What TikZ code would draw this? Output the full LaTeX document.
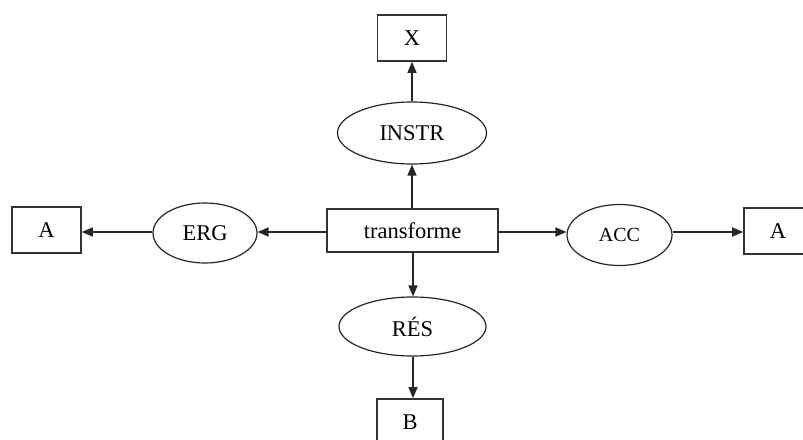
\documentclass[tikz,border=0pt]{standalone}
\usepackage{fontspec}
\setmainfont{Liberation Serif}
\usetikzlibrary{shapes.geometric,arrows.meta}
\tikzset{
  x=1pt,y=1pt,
  box/.style={draw=black!80,line width=1.6pt,rectangle,inner sep=0pt,font=\fontsize{22.5}{24}\selectfont},
  rel/.style={draw=black!85,line width=1.2pt,ellipse,inner sep=0pt,font=\fontsize{22.5}{24}\selectfont},
  conn/.style={draw=black!85,line width=1.4pt,-{Triangle[length=11pt,width=9pt]}},
}
\begin{document}
\begin{tikzpicture}
\path[use as bounding box,clip] (0,0) rectangle (803,-439);
\fill[white] (0,0) rectangle (803,-439);
\node[box,minimum width=69,minimum height=46] (X) at (412,-38) {X};
\node[rel,minimum width=149,minimum height=62] (instr) at (412,-133) {INSTR};
\node[box,minimum width=171,minimum height=43] (t) at (412.5,-230.5) {transforme};
\node[rel,minimum width=104,minimum height=60] (erg) at (205,-233) {ERG};
\node[box,minimum width=69,minimum height=46] (al) at (46.5,-230) {A};
\node[rel,minimum width=105,minimum height=61,font=\fontsize{20}{22}\selectfont] (acc) at (619.5,-235) {ACC};
\node[box,minimum width=68,minimum height=46] (ar) at (778,-231) {A};
\node[rel,minimum width=147,minimum height=59] (res) at (412.5,-326.5) {RÉS};
\node[box,minimum width=66,minimum height=46] (b) at (410,-422) {B};
\coordinate (tn) at (412,-209);
\coordinate (ts) at (413,-252);
\coordinate (tw) at (327,-232);
\coordinate (te) at (498,-232);
\draw[conn] (tn) -- (instr.south);
\draw[conn] (instr.north) -- (X.south);
\draw[conn] (tw) -- (erg.east |- tw);
\draw[conn] (erg.west |- tw) -- (al.east |- tw);
\draw[conn] (te) -- (acc.west |- te);
\draw[conn] (acc.east |- te) -- (ar.west |- te);
\draw[conn] (ts) -- (ts |- res.north);
\draw[conn] (ts |- res.south) -- (ts |- b.north);
\end{tikzpicture}
\end{document}
